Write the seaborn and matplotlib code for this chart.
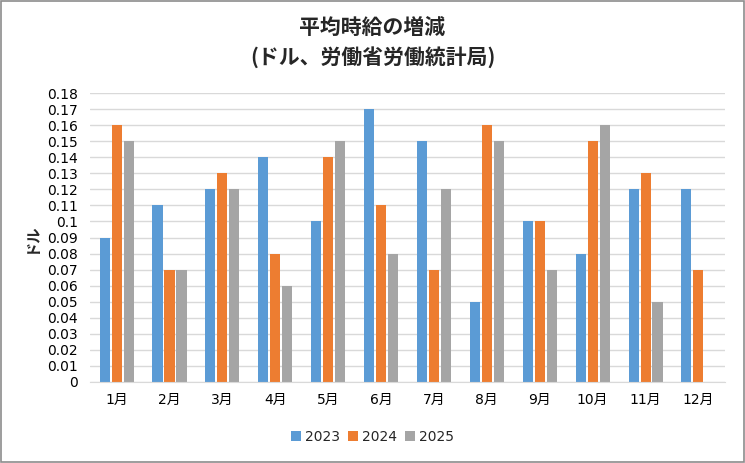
import pandas as pd
import numpy as np
import matplotlib.pyplot as plt
import seaborn as sns
from matplotlib.patches import Rectangle

months = ['1月', '2月', '3月', '4月', '5月', '6月', '7月', '8月', '9月', '10月', '11月', '12月']
years = ['2023', '2024', '2025']
v2023 = [0.09, 0.11, 0.12, 0.14, 0.10, 0.17, 0.15, 0.05, 0.10, 0.08, 0.12, 0.12]
v2024 = [0.16, 0.07, 0.13, 0.08, 0.14, 0.11, 0.07, 0.16, 0.10, 0.15, 0.13, 0.07]
v2025 = [0.15, 0.07, 0.12, 0.06, 0.15, 0.08, 0.12, 0.15, 0.07, 0.16, 0.05, np.nan]
colors = ['#5B9BD5', '#ED7D31', '#A5A5A5']

df = pd.DataFrame({
    '月': months * 3,
    '年': [y for y in years for _ in months],
    '値': v2023 + v2024 + v2025,
})

sns.set_style('white')
plt.rcParams['font.family'] = ['DejaVu Sans', 'Noto Sans CJK JP']

fig = plt.figure(figsize=(7.45, 4.63), dpi=100)
ax = fig.add_axes([0.121, 0.175, 0.852, 0.624])

sns.barplot(data=df, x='月', y='値', hue='年', palette=colors, order=months,
            hue_order=years, width=0.68, gap=0.16, saturation=1, linewidth=0,
            ax=ax, legend=True)

ax.set_ylim(0, 0.18)
ax.set_yticks(np.arange(0, 0.181, 0.01))
ax.set_yticklabels(['0'] + [f'{t:.2f}'.rstrip('0') if round(t * 100) % 10 == 0 else f'{t:.2f}'
                            for t in np.arange(0.01, 0.181, 0.01)])
ax.set_xlim(-0.5, 11.5)
ax.grid(axis='y', color='#D9D9D9', linewidth=1)
ax.set_axisbelow(True)
for s in ['top', 'right', 'left']:
    ax.spines[s].set_visible(False)
ax.spines['bottom'].set_color('#D9D9D9')
ax.tick_params(axis='both', length=0, labelsize=10, colors='#000000')
ax.tick_params(axis='x', pad=8)
ax.tick_params(axis='y', pad=9)
ax.set_xlabel('')
ax.set_ylabel('ドル', fontsize=11, fontweight='bold', labelpad=6)

title_font = ['Noto Sans CJK JP', 'DejaVu Sans']
fig.text(0.5, 0.94, '平均時給の増減', ha='center', va='center', fontsize=15,
         fontweight='bold', family=title_font)
fig.text(0.5, 0.876, '(ドル、労働省労働統計局)', ha='center', va='center', fontsize=15,
         fontweight='bold', family=title_font)

ax.legend(loc='center', bbox_to_anchor=(0.5, 0.057), bbox_transform=fig.transFigure,
          ncol=3, frameon=False, fontsize=10, handlelength=0.7, handleheight=0.7,
          handletextpad=0.3, columnspacing=0.6)

fig.patches.append(Rectangle((0.001, 0.002), 0.997, 0.995, transform=fig.transFigure,
                             fill=False, edgecolor='#8C8C8C', linewidth=1.2))

fig.savefig('out.png', dpi=100, facecolor='white')
